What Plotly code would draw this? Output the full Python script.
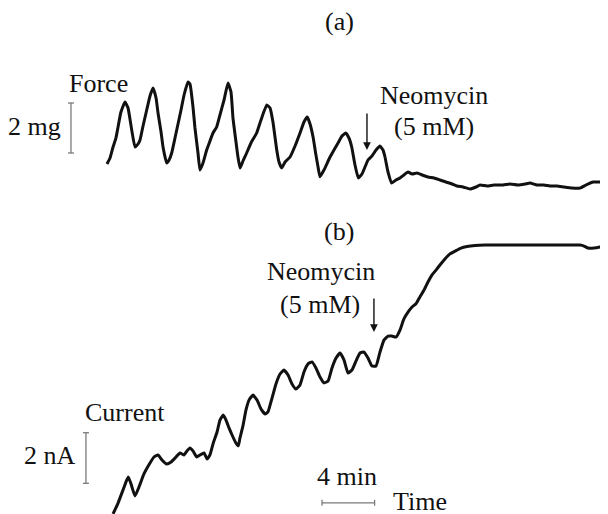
import plotly.graph_objects as go

# ---- data (time in minutes, force in mg, current in nA) ----
force_time = [0.00, 0.23, 0.46, 0.68, 0.84, 1.06, 1.37, 1.60, 1.88, 2.13, 2.36, 2.51, 2.74, 3.02, 3.27, 3.50,
              3.73, 3.88, 4.11, 4.26, 4.54, 4.72, 4.92, 5.17, 5.40, 5.63, 5.86, 6.16, 6.31, 6.54, 6.69, 6.92,
              7.07, 7.30, 7.58, 7.83, 8.06, 8.34, 8.59, 8.90, 9.20, 9.43, 9.58, 9.81, 9.96, 10.12, 10.34, 10.62,
              10.95, 11.38, 11.71, 12.15, 12.40, 12.62, 12.91, 13.08, 13.29, 13.54, 13.92, 14.30, 14.68, 14.98,
              15.23, 15.44, 15.67, 15.89, 16.05, 16.20, 16.50, 16.96, 17.26, 17.57, 17.87, 18.15, 18.40, 18.61,
              18.86, 19.11, 19.39, 19.62, 19.85, 20.15, 20.46, 20.76, 20.99, 21.14, 21.37, 21.65, 21.98, 22.28,
              22.58, 22.89, 23.20, 23.58, 23.96, 24.41, 24.87, 25.32, 25.78, 26.24, 26.62, 27.07, 27.61, 28.06,
              28.37, 28.90, 29.43, 30.12, 30.65, 31.26, 31.79, 32.17, 32.70, 33.23, 33.69, 34.22, 34.76, 35.37,
              35.97, 36.43, 36.96, 37.49, 38.10]
force_mg = [1.04, 1.28, 1.72, 2.08, 2.52, 3.12, 3.52, 3.28, 2.40, 1.72, 1.84, 2.00, 2.56, 3.20, 3.76, 4.08,
            3.68, 3.08, 2.32, 1.72, 1.08, 1.20, 1.48, 2.08, 2.64, 3.20, 3.80, 4.32, 4.24, 3.32, 2.48, 1.48,
            0.80, 1.08, 1.60, 1.96, 2.28, 2.52, 3.00, 3.60, 4.28, 3.92, 2.88, 1.92, 1.32, 0.88, 1.16, 1.48,
            1.88, 2.28, 2.80, 3.40, 3.28, 2.72, 1.60, 1.12, 0.88, 1.12, 1.32, 1.76, 2.28, 2.72,
            2.92, 2.64, 2.12, 1.40, 0.92, 0.53, 0.80, 1.32, 1.60, 1.88, 2.16, 2.28, 2.08, 1.72,
            1.00, 0.48, 0.64, 0.92, 1.20, 1.36, 1.60, 1.76, 1.60, 1.32, 0.72, 0.28, 0.40, 0.48,
            0.60, 0.72, 0.64, 0.68, 0.60, 0.52, 0.48, 0.40, 0.32, 0.24, 0.16, 0.12, 0.04, 0.12,
            0.20, 0.16, 0.20, 0.20, 0.24, 0.20, 0.24, 0.28, 0.20, 0.20, 0.16, 0.16, 0.12, 0.08,
            0.08, 0.20, 0.32, 0.32, 0.40]

current_time = [0.46, 0.84, 1.22, 1.44, 1.62, 1.83, 2.13, 2.43, 2.81, 3.27, 3.57, 3.88, 4.18, 4.54, 4.87, 5.25,
                5.55, 5.86, 6.08, 6.31, 6.54, 6.82, 7.07, 7.38, 7.61, 7.83, 8.08, 8.37, 8.59, 8.84, 9.05, 9.28,
                9.51, 9.81, 9.99, 10.11, 10.34, 10.57, 10.80, 11.10, 11.41, 11.71, 12.02, 12.24, 12.55, 12.85,
                13.16, 13.46, 13.77, 14.07, 14.37, 14.68, 14.98, 15.29, 15.59, 15.89, 16.20, 16.50, 16.81, 17.11,
                17.42, 17.72, 18.02, 18.33, 18.63, 18.94, 19.24, 19.55, 19.85, 20.15, 20.46, 20.76, 21.07, 21.37,
                21.67, 21.98, 22.28, 22.58, 22.89, 23.20, 23.50, 23.80, 24.11, 24.41, 24.72, 25.02, 25.32, 25.70,
                26.08, 26.47, 26.92, 27.38, 27.99, 28.75, 29.89, 31.41, 32.93, 34.45, 35.97, 36.28, 36.58, 37.04,
                37.49, 38.10]
current_nA = [0.24, 0.67, 1.19, 1.50, 1.70, 1.42, 0.95, 1.30, 1.82, 2.25, 2.49, 2.57, 2.37, 2.21, 2.29, 2.49,
              2.65, 2.57, 2.73, 2.85, 2.73, 2.49, 2.57, 2.65, 2.41, 2.57, 3.04, 3.48, 3.95, 4.15, 3.95, 3.64,
              3.36, 3.04, 2.93, 3.24, 3.72, 4.35, 4.74, 4.94, 4.74, 4.39, 4.19, 4.27, 4.82, 5.38,
              5.77, 5.93, 5.73, 5.38, 5.18, 5.34, 5.85, 6.17, 6.25, 6.01, 5.65, 5.42, 5.49, 6.01,
              6.40, 6.60, 6.33, 5.81, 5.93, 6.29, 6.60, 6.64, 6.40, 6.09, 6.09, 6.64, 7.12, 7.27,
              7.27, 7.23, 7.51, 7.95, 8.22, 8.42, 8.55, 8.82, 9.09, 9.41, 9.69, 9.88, 10.08, 10.32,
              10.52, 10.63, 10.75, 10.81, 10.85, 10.87, 10.87, 10.87, 10.87, 10.87, 10.87, 10.83, 10.75, 10.75,
              10.79, 10.87]

# scale bars (values)
force_bar_mg = [1.48, 3.48]
current_bar_nA = [1.45, 3.45]
time_bar_min = [16.35, 20.35]
neomycin_time = [19.77, 20.3]

# page body has an 8px margin, so the figure sits at (8, 8) in the window
OFF = 8
W, H = 608 - OFF, 514 - OFF
FONT = "Liberation Serif, Times New Roman, serif"
FS = 26
INK = "#111111"
BAR = "#7a7a7a"


def px(x, y):
    return (x - OFF) / W, 1 - (y - OFF) / H


fig = go.Figure()
fig.add_trace(go.Scatter(x=force_time, y=force_mg, mode="lines", yaxis="y",
                         line=dict(color=INK, width=3, shape="spline", smoothing=0.4),
                         hoverinfo="skip", showlegend=False))
fig.add_trace(go.Scatter(x=current_time, y=current_nA, mode="lines", yaxis="y2",
                         line=dict(color=INK, width=3, shape="spline", smoothing=0.4),
                         hoverinfo="skip", showlegend=False))

shapes = []
# force scale bar
shapes.append(dict(type="line", xref="x", yref="y", x0=-2.74, x1=-2.74,
                   y0=force_bar_mg[0], y1=force_bar_mg[1], line=dict(color=BAR, width=1.3)))
for v in force_bar_mg:
    shapes.append(dict(type="line", xref="x", yref="y", xsizemode="pixel", xanchor=-2.74,
                       x0=-3, x1=3, y0=v, y1=v, line=dict(color=BAR, width=1.3)))
# current scale bar
shapes.append(dict(type="line", xref="x", yref="y2", x0=-1.60, x1=-1.60,
                   y0=current_bar_nA[0], y1=current_bar_nA[1], line=dict(color=BAR, width=1.3)))
for v in current_bar_nA:
    shapes.append(dict(type="line", xref="x", yref="y2", xsizemode="pixel", xanchor=-1.60,
                       x0=-3, x1=3, y0=v, y1=v, line=dict(color=BAR, width=1.3)))
# time scale bar
shapes.append(dict(type="line", xref="x", yref="y2", x0=time_bar_min[0], x1=time_bar_min[1],
                   y0=0.68, y1=0.68, line=dict(color=BAR, width=1.3)))
for v in time_bar_min:
    shapes.append(dict(type="line", xref="x", yref="y2", ysizemode="pixel", yanchor=0.68,
                       x0=v, x1=v, y0=-3, y1=3, line=dict(color=BAR, width=1.3)))

ann = []


def text(t, x, y, xanchor="center"):
    ax_, ay_ = px(x, y - 2)
    ann.append(dict(text=t, x=ax_, y=ay_, xref="paper", yref="paper", showarrow=False,
                    xanchor=xanchor, yanchor="middle",
                    font=dict(family=FONT, size=FS, color=INK)))


text("(a)", 339, 24)
text("Force", 98, 85)
text("2 mg", 63, 128, "right")
text("Neomycin", 434, 97)
text("(5 mM)", 434, 128)
text("(b)", 339, 233)
text("Neomycin", 321, 273)
text("(5 mM)", 320, 306)
text("Current", 125, 414)
text("2 nA", 78, 457, "right")
text("4 min", 347, 478)
text("Time", 391, 503, "left")

# Neomycin arrows
ann.append(dict(text="", x=neomycin_time[0], y=1.6, xref="x", yref="y", showarrow=True,
                ax=0, ay=-38, arrowhead=2, arrowsize=1.1, arrowwidth=1.4, arrowcolor=INK))
ann.append(dict(text="", x=neomycin_time[1], y=7.43, xref="x", yref="y2", showarrow=True,
                ax=0, ay=-35, arrowhead=2, arrowsize=1.1, arrowwidth=1.4, arrowcolor=INK))

fig.update_layout(
    width=W, height=H, margin=dict(l=0, r=0, t=0, b=0),
    paper_bgcolor="white", plot_bgcolor="white",
    xaxis=dict(range=[-7.529, 38.10], visible=False, fixedrange=True),
    yaxis=dict(range=[-12.96, 7.28], visible=False, fixedrange=True),
    yaxis2=dict(range=[0.237, 20.24], visible=False, overlaying="y", fixedrange=True),
    shapes=shapes, annotations=ann, showlegend=False,
)

fig.write_html("out.html", config={"displayModeBar": False})
